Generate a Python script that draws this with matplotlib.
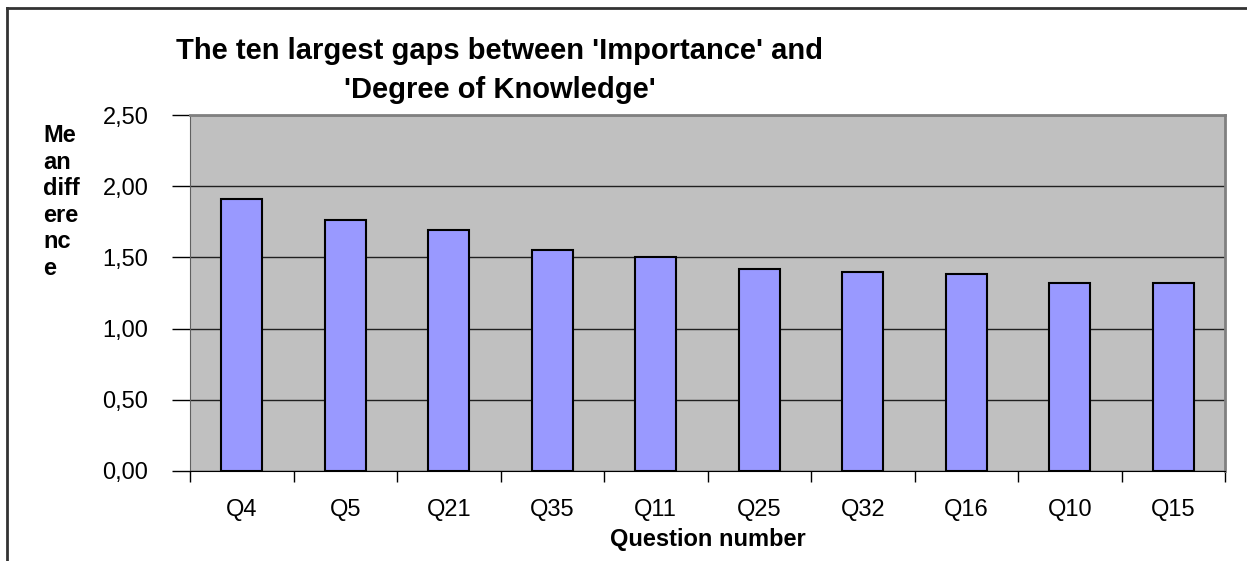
import matplotlib.pyplot as plt
from matplotlib.lines import Line2D
from matplotlib.ticker import FuncFormatter, MultipleLocator

plt.rcParams['font.family'] = ['Liberation Sans', 'DejaVu Sans']

questions = ["Q4", "Q5", "Q21", "Q35", "Q11", "Q25", "Q32", "Q16", "Q10", "Q15"]
mean_diff = [1.91, 1.76, 1.69, 1.55, 1.50, 1.42, 1.40, 1.38, 1.32, 1.32]

fig = plt.figure(figsize=(12.47, 5.61), dpi=100)
ax = fig.add_axes([190 / 1247, 1 - 471 / 561, (1225 - 190) / 1247, (471 - 115) / 561])

ax.set_facecolor("#C0C0C0")
x = list(range(len(questions)))
ax.bar(x, mean_diff, width=0.4, color="#9999FF", edgecolor="black", linewidth=1.5, zorder=3)

ax.set_xlim(-0.5, len(questions) - 0.5)
ax.set_ylim(0, 2.5)
ax.yaxis.set_major_locator(MultipleLocator(0.5))
ax.yaxis.set_major_formatter(FuncFormatter(lambda v, p: f"{v:.2f}".replace(".", ",")))
ax.grid(axis="y", color="#202020", linewidth=1.0, zorder=1)

# category labels between boundary ticks
ax.set_xticks([i - 0.5 for i in range(len(questions) + 1)])
ax.set_xticklabels([])
ax.set_xticks(x, minor=True)
ax.set_xticklabels(questions, minor=True, fontsize=17)
ax.tick_params(axis="x", which="major", direction="out", length=8, width=1, color="black")
ax.tick_params(axis="x", which="minor", length=0, pad=20)
ax.tick_params(axis="y", direction="out", length=13, width=1, labelsize=17, pad=17)

for side in ["top", "right"]:
    ax.spines[side].set_color("#808080")
    ax.spines[side].set_linewidth(2)
ax.spines["left"].set_color("#606060")
ax.spines["bottom"].set_color("black")

ax.set_xlabel("Question number", fontsize=17, fontweight="bold", labelpad=5)

fig.text(43 / 1247, 1 - 124 / 561, "Me\nan\ndiff\nere\nnc\ne", fontsize=17, fontweight="bold",
         ha="left", va="top", linespacing=1.2)

fig.text(500 / 1247, 1 - 51 / 561, "The ten largest gaps between 'Importance' and",
         fontsize=21, fontweight="bold", ha="center", va="center")
fig.text(500 / 1247, 1 - 90 / 561, "'Degree of Knowledge'",
         fontsize=21, fontweight="bold", ha="center", va="center")

# outer chart frame
fig.add_artist(Line2D([7 / 1247, 7 / 1247], [0, 1 - 8 / 561], transform=fig.transFigure,
                      color="#333333", linewidth=2))
fig.add_artist(Line2D([7 / 1247, 1], [1 - 8 / 561, 1 - 8 / 561], transform=fig.transFigure,
                      color="#333333", linewidth=2))

fig.savefig("out.png", dpi=100)
